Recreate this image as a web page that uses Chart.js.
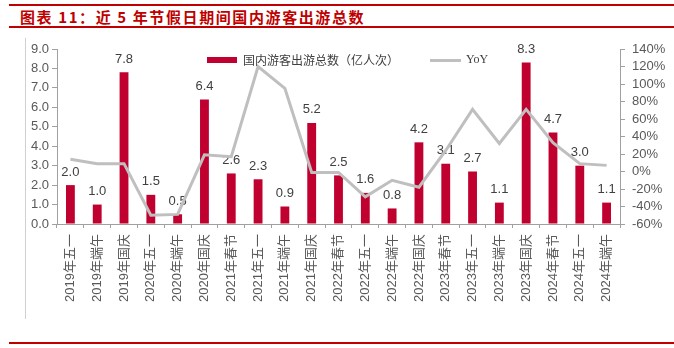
<!DOCTYPE html>
<html>
<head>
<meta charset="utf-8">
<script src="https://cdn.jsdelivr.net/npm/chart.js@4"></script>
<style>
  html, body { margin: 0; padding: 0; background: #fff; }
  #wrap { position: relative; width: 674px; height: 348px; overflow: hidden; }
  .rule { position: absolute; left: 9px; right: 0; height: 2px; background: #C00000; }
  #title { position: absolute; left: 20px; top: 6px; font: bold 15px "Noto Sans CJK SC", sans-serif; color: #C00000; letter-spacing: 1.6px; }
  #frame { position: absolute; left: 25px; top: 38px; width: 1px; height: 281px; background: #D0D0D0; }
  #c { position: absolute; left: 0; top: 0; }
</style>
</head>
<body>
<div id="wrap">
  <div class="rule" style="top:4px"></div>
  <div id="title">图表 11：近 5 年节假日期间国内游客出游总数</div>
  <div class="rule" style="top:26px"></div>
  <div id="frame"></div>
  <div class="rule" style="top:342px"></div>
  <canvas id="c" width="674" height="348"></canvas>
</div>
<script>
// Données
const categories = ['2019年五一', '2019年端午', '2019年国庆', '2020年五一', '2020年端午', '2020年国庆',
  '2021年春节', '2021年五一', '2021年端午', '2021年国庆', '2022年春节', '2022年五一', '2022年端午',
  '2022年国庆', '2023年春节', '2023年五一', '2023年端午', '2023年国庆', '2024年春节', '2024年五一', '2024年端午'];
const touristTrips = [2.0, 1.0, 7.8, 1.5, 0.5, 6.4, 2.6, 2.3, 0.9, 5.2, 2.5, 1.6, 0.8, 4.2, 3.1, 2.7, 1.1, 8.3, 4.7, 3.0, 1.1];
const yoy = [14, 9, 9, -50, -49, 19, 17, 120, 95, -1, -1, -29, -10, -18, 24, 71, 32, 71, 33, 9, 7];

const barColor = '#C0002F';
const lineColor = '#BFBFBF';
const axisColor = '#A0A0A0';
const textColor = '#595959';
const font = { family: '"Liberation Sans", "Noto Sans CJK SC", sans-serif', size: 13 };

// étiquettes au-dessus des barres
const barLabels = {
  id: 'barLabels',
  afterDatasetDraw(chart, args) {
    if (args.index !== 0) return;
    const ctx = chart.ctx;
    ctx.save();
    ctx.font = '13px "Liberation Sans", sans-serif';
    ctx.fillStyle = '#404040';
    ctx.textAlign = 'center';
    ctx.textBaseline = 'middle';
    args.meta.data.forEach((bar, i) => {
      ctx.fillText(touristTrips[i].toFixed(1), bar.x, bar.y - 13);
    });
    ctx.restore();
  }
};

// légende dans la zone du graphique
const innerLegend = {
  id: 'innerLegend',
  afterDraw(chart) {
    const ctx = chart.ctx;
    ctx.save();
    ctx.fillStyle = barColor;
    ctx.fillRect(207, 57, 30, 6);
    ctx.font = '12px "Noto Sans CJK SC", sans-serif';
    ctx.fillStyle = '#404040';
    ctx.textBaseline = 'middle';
    ctx.fillText('国内游客出游总数（亿人次）', 243, 60);
    ctx.strokeStyle = lineColor;
    ctx.lineWidth = 3;
    ctx.beginPath();
    ctx.moveTo(430, 60.5);
    ctx.lineTo(461, 60.5);
    ctx.stroke();
    ctx.font = '12px "Liberation Serif", serif';
    ctx.fillText('YoY', 466, 60);
    ctx.restore();
  }
};

new Chart(document.getElementById('c'), {
  type: 'bar',
  data: {
    labels: categories,
    datasets: [{
      label: '国内游客出游总数（亿人次）',
      data: touristTrips,
      backgroundColor: barColor,
      barPercentage: 0.33,
      categoryPercentage: 1,
      yAxisID: 'y',
      order: 1
    }, {
      type: 'line',
      label: 'YoY',
      data: yoy,
      borderColor: lineColor,
      borderWidth: 3,
      pointRadius: 0,
      tension: 0,
      yAxisID: 'y1',
      order: 0
    }]
  },
  options: {
    responsive: false,
    animation: false,
    layout: { padding: { top: 49, left: 0, right: 0, bottom: 0 } },
    plugins: { legend: { display: false }, tooltip: { enabled: false } },
    scales: {
      x: {
        grid: { drawOnChartArea: false, color: axisColor, tickLength: 4, offset: true },
        border: { color: axisColor },
        ticks: { color: textColor, font: font, minRotation: 90, maxRotation: 90, padding: 6, autoSkip: false },
        afterFit(s) { s.height = 124; }
      },
      y: {
        position: 'left',
        min: 0, max: 9,
        grid: { drawOnChartArea: false, color: axisColor, tickLength: 5 },
        border: { color: axisColor },
        ticks: { stepSize: 1, autoSkip: false, color: textColor, font: font, padding: 3, callback: v => v.toFixed(1) },
        afterFit(s) { s.width = 57; }
      },
      y1: {
        position: 'right',
        min: -60, max: 140,
        grid: { drawOnChartArea: false, color: axisColor, tickLength: 5 },
        border: { color: axisColor },
        ticks: { stepSize: 20, autoSkip: false, color: textColor, font: font, padding: 7, callback: v => v + '%' },
        afterFit(s) { s.width = 54; }
      }
    }
  },
  plugins: [barLabels, innerLegend]
});
</script>
</body>
</html>
